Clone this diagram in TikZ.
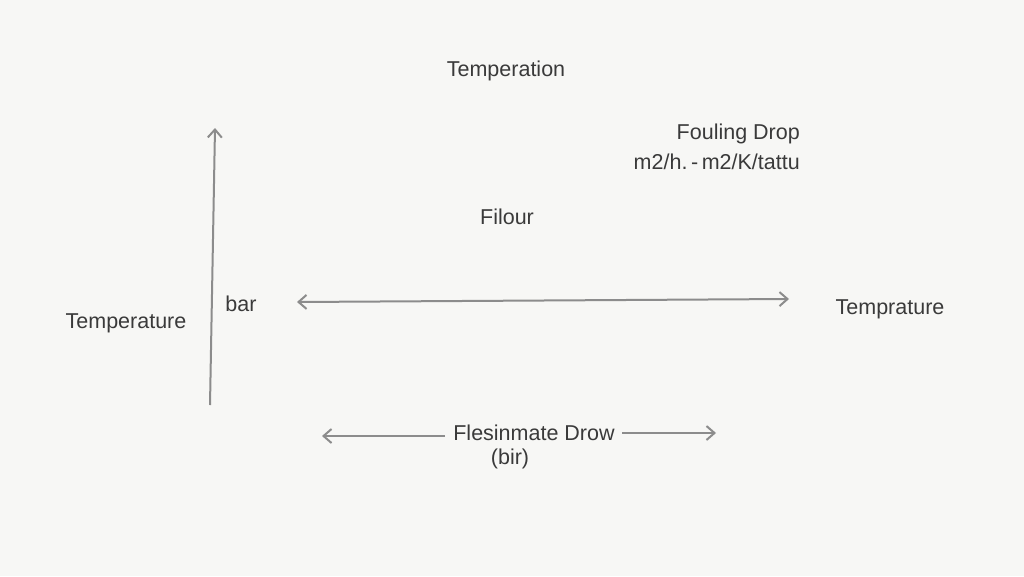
\documentclass[tikz,border=0pt]{standalone}
\usepackage{fontspec}
\setmainfont{Liberation Sans}
\usetikzlibrary{arrows.meta}
\definecolor{bg}{HTML}{F7F7F5}
\definecolor{ink}{HTML}{3A3A3A}
\definecolor{arr}{HTML}{8C8C8C}
\tikzset{
  lbl/.style={text=ink, font=\fontsize{21.5}{24}\selectfont, inner sep=0pt},
  conn/.style={draw=arr, line width=2pt, -{Straight Barb[length=8pt,width=14pt]}},
  conn2/.style={draw=arr, line width=2pt, {Straight Barb[length=8pt,width=14pt]}-{Straight Barb[length=8pt,width=14pt]}}
}
\begin{document}
\begin{tikzpicture}[x=1pt,y=-1pt]
\fill[bg] (0,0) rectangle (1024,576);
\useasboundingbox (0,0) rectangle (1024,576);
\node[lbl] (title) at (506,71) {Temperation};
\node[lbl, anchor=east] (foul) at (800,134) {Fouling Drop};
\node[lbl, anchor=east] (unit) at (800,162) {m2/h.\,-\,m2/K/tattu};
\node[lbl] (filour) at (507,217) {Filour};
\node[lbl] (bar) at (241,304) {bar};
\node[lbl] (tleft) at (126,323) {Temperature};
\node[lbl] (tright) at (890,309) {Temprature};
\node[lbl] (flow) at (534,433) {Flesinmate Drow};
\node[lbl] (bir) at (510,459) {(bir)};
\coordinate (vb) at (210,405);
\coordinate (vt) at (215,128);
\coordinate (hl) at (297,302);
\coordinate (hr) at (789,299);
\coordinate (fls) at (445,436);
\coordinate (fl) at (322,436);
\coordinate (frs) at (622,433);
\coordinate (fr) at (716,433);
\draw[conn] (vb) -- (vt);
\draw[conn2] (hl) -- (hr);
\draw[conn] (fls) -- (fl);
\draw[conn] (frs) -- (fr);
\end{tikzpicture}
\end{document}
